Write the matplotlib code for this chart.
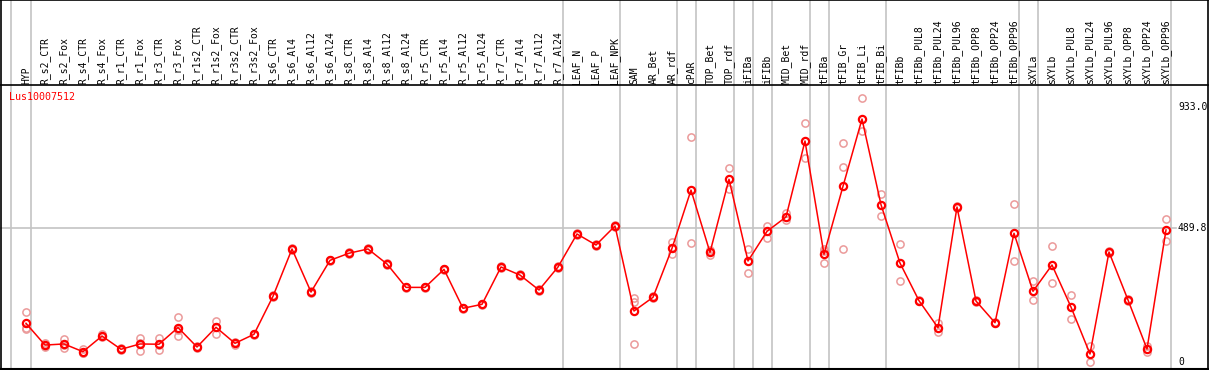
import matplotlib.pyplot as plt
import numpy as np

# expression profile of one gene across 61 samples
gene = "Lus10007512"

samples = ["HYP", "R_s2_CTR", "R_s2_Fox", "R_s4_CTR", "R_s4_Fox", "R_r1_CTR", "R_r1_Fox",
           "R_r3_CTR", "R_r3_Fox", "R_r1s2_CTR", "R_r1s2_Fox", "R_r3s2_CTR", "R_r3s2_Fox",
           "R_s6_CTR", "R_s6_Al4", "R_s6_Al12", "R_s6_Al24", "R_s8_CTR", "R_s8_Al4",
           "R_s8_Al12", "R_s8_Al24", "R_r5_CTR", "R_r5_Al4", "R_r5_Al12", "R_r5_Al24",
           "R_r7_CTR", "R_r7_Al4", "R_r7_Al12", "R_r7_Al24", "LEAF_N", "LEAF_P", "LEAF_NPK",
           "SAM", "AR_Bet", "AR_rdf", "cPAR", "TOP_Bet", "TOP_rdf", "iFIBa", "iFIBb",
           "MID_Bet", "MID_rdf", "tFIBa", "tFIB_Gr", "tFIB_Li", "tFIB_Bi", "tFIBb",
           "tFIBb_PUL8", "tFIBb_PUL24", "tFIBb_PUL96", "tFIBb_OPP8", "tFIBb_OPP24",
           "tFIBb_OPP96", "sXYLa", "sXYLb", "sXYLb_PUL8", "sXYLb_PUL24", "sXYLb_PUL96",
           "sXYLb_OPP8", "sXYLb_OPP24", "sXYLb_OPP96"]

means = [141.6, 62, 66, 37.7, 95, 46.5, 66, 65, 126, 54.9, 127, 68.4, 101.4,
         240.4, 413.5, 256, 372, 398, 413.5, 358.6, 273, 273, 339, 196.5, 211,
         347.6, 318, 263.4, 347.6, 468.4, 428, 497.6, 186.6, 236.7, 416, 629, 401,
         668.5, 369.6, 478, 530.6, 808.6, 394, 643, 889, 575.6, 362, 224.3, 125.5,
         567, 223, 143.8, 471, 258.7, 355, 201, 29.3, 402.5, 227, 47.6, 483]

replicates = [[182, 120, 123], [71, 56, 60], [84, 52, 62], [46, 34, 33], [101, 90, 94],
              [50, 44, 46], [89, 39, 70], [89, 43, 63], [166, 95, 117], [58, 51, 56],
              [151, 102, 128], [71, 62, 72], [104, 98, 102], [244, 237, 240],
              [417, 410, 414], [259, 253, 256], [375, 369, 372], [401, 395, 398],
              [417, 410, 414], [362, 355, 359], [276, 270, 273], [276, 270, 273],
              [342, 336, 339], [199, 194, 197], [214, 208, 211], [350, 345, 348],
              [321, 315, 318], [266, 260, 264], [350, 345, 348], [471, 466, 468],
              [431, 425, 428], [500, 495, 498], [233, 218, 65], [240, 234, 237],
              [440, 395, 416], [823, 434], [410, 392], [709, 632], [414, 325],
              [499, 455], [544, 520], [873, 745], [412, 361, 405], [800, 712, 414],
              [965, 846], [614, 534], [432, 296], [227, 222], [142, 109], [570, 564],
              [226, 220], [147, 141], [577, 368], [296, 227], [424, 289], [245, 157],
              [58, 0], [405, 400], [229, 225], [58, 35], [523, 443]]

# gray separators are drawn right after these samples
group_ends = ["HYP", "R_r7_Al24", "LEAF_NPK", "AR_rdf", "cPAR", "TOP_rdf", "iFIBa",
              "iFIBb", "MID_rdf", "tFIBa", "tFIB_Bi", "tFIBb_OPP96", "sXYLa", "sXYLb_OPP96"]

ref_levels = [0, 489.8, 933.0]
ref_labels = ["0", "489.8", "933.0"]

W, H = 1209, 370
fig = plt.figure(figsize=(W / 100, H / 100), dpi=100)
ax = fig.add_axes([0, 0, 1, 1])

# pixel layout: column i at x = 26 + 19*i ; value 0 at row 362, 933 at row 107
x0, dx = 26, 19
y0, ppv = 362, 255 / 933
ax.set_xlim(-x0 / dx, (W - x0) / dx)
ax.set_ylim(-(H - y0) / ppv, y0 / ppv)
ax.axis("off")


def px(p):
    return (p - x0) / dx


def py(p):
    return (y0 - p) / ppv


mono = "DejaVu Sans Mono"
gray = "#c4c4c4"
pink = "#eb9a9a"

# frame + header separator
ax.plot([px(0.5), px(1207.5)], [py(0.5), py(0.5)], color="k", lw=1.2, clip_on=False)
ax.plot([px(0.5), px(1207.5)], [py(85), py(85)], color="k", lw=1.2)
ax.plot([px(0.5), px(1207.5)], [py(369), py(369)], color="k", lw=1.5)
ax.plot([px(1), px(1)], [py(0), py(369)], color="k", lw=1.2)
ax.plot([px(1207.5), px(1207.5)], [py(0), py(369)], color="k", lw=1.2)

# vertical group separators
ax.plot([-0.8, -0.8], [py(0), py(369)], color=gray, lw=1.2, zorder=0)
for name in group_ends:
    xi = samples.index(name) + 0.24
    ax.plot([xi, xi], [py(0), py(369)], color=gray, lw=1.2, zorder=0)

# reference line + labels on the right
ax.plot([px(1), px(1176)], [ref_levels[1], ref_levels[1]], color=gray, lw=1.2, zorder=0)
for v, lab in zip(ref_levels, ref_labels):
    ax.text(px(1178), v, lab, fontsize=7, family=mono, ha="left", va="center")

# sample names in header
x = np.arange(len(samples))
for i, name in enumerate(samples):
    ax.text(i, py(84), name, rotation=90, fontsize=7, family=mono,
            ha="center", va="bottom")

ax.text(px(9), py(97), gene, color="red", fontsize=7.2, family=mono,
        ha="left", va="center")

# replicate points
for i, reps in enumerate(replicates):
    ax.plot([i] * len(reps), reps, "o", ms=5.2, mfc="none", mec=pink, mew=1.1, zorder=2)

# mean profile
ax.plot(x, means, "-", color="red", lw=1.1, zorder=3)
ax.plot(x, means, "o", ms=5.2, mfc="none", mec="red", mew=1.6, zorder=4)

fig.savefig("out.png", dpi=100)
